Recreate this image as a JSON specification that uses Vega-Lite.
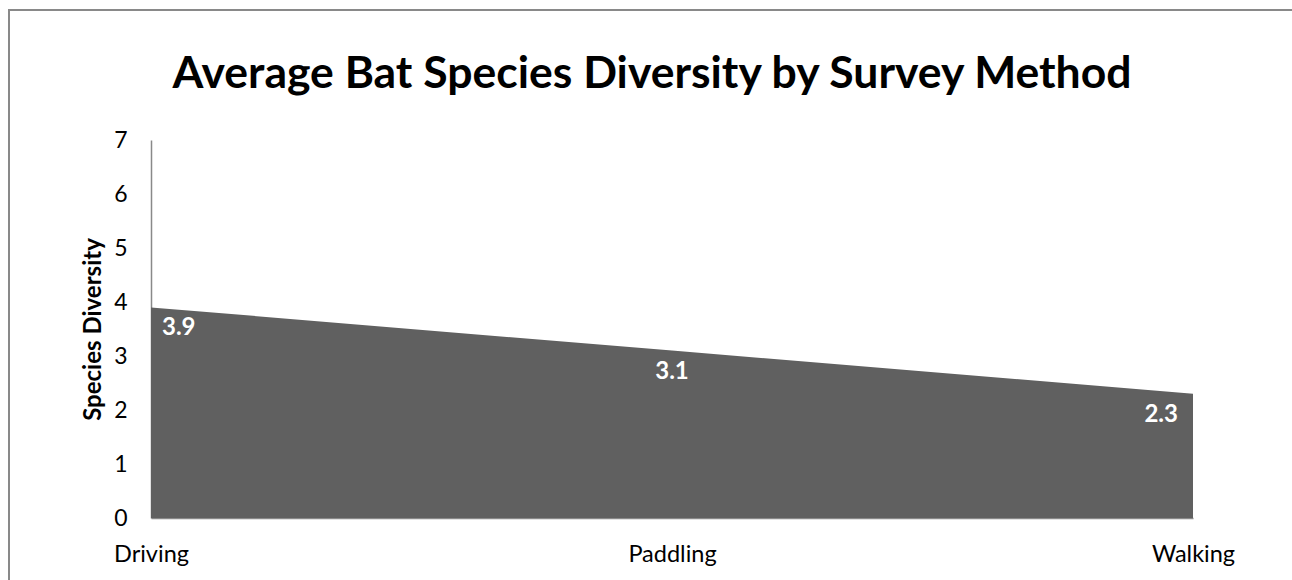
{
  "$schema": "https://vega.github.io/schema/vega-lite/v6.json",
  "width": 1300,
  "height": 600,
  "autosize": "none",
  "padding": {"left": 9, "top": 10, "right": 0, "bottom": 0},
  "background": "white",
  "config": {
    "view": {"stroke": "#898989", "strokeWidth": 2},
    "font": "Lato"
  },
  "title": {
    "text": "Average Bat Species Diversity by Survey Method",
    "font": "Lato",
    "fontSize": 44.5,
    "fontWeight": "bold",
    "color": "#000000",
    "anchor": "middle",
    "frame": "group",
    "offset": 0,
    "baseline": "alphabetic",
    "dy": 122,
    "dx": -7
  },
  "data": {
    "values": [
      {"method": "Driving", "diversity": 3.9},
      {"method": "Paddling", "diversity": 3.1},
      {"method": "Walking", "diversity": 2.3}
    ]
  },
  "encoding": {
    "x": {
      "field": "method",
      "type": "ordinal",
      "sort": null,
      "scale": {"type": "point", "range": [142, 1184], "padding": 0},
      "axis": {
        "orient": "bottom",
        "offset": -92,
        "title": null,
        "domainColor": "#898989",
        "domainWidth": 1.5,
        "ticks": false,
        "grid": false,
        "labelAngle": 0,
        "labelFont": "Lato",
        "labelFontSize": 23.5,
        "labelColor": "#000000",
        "labelPadding": 24,
        "labelAlign": "center",
        "labelFlush": false,
        "labelOverlap": false
      }
    },
    "y": {
      "field": "diversity",
      "type": "quantitative",
      "scale": {"domain": [0, 7], "range": [508, 130], "nice": false, "zero": true},
      "axis": {
        "orient": "left",
        "offset": -142,
        "values": [0, 1, 2, 3, 4, 5, 6, 7],
        "title": "Species Diversity",
        "titleFont": "Lato",
        "titleFontSize": 24,
        "titleFontWeight": "bold",
        "titleColor": "#000000",
        "titlePadding": 8,
        "domainColor": "#898989",
        "domainWidth": 1.5,
        "ticks": false,
        "grid": false,
        "labelFont": "Lato",
        "labelFontSize": 23,
        "labelColor": "#000000",
        "labelPadding": 24
      }
    }
  },
  "layer": [
    {"mark": {"type": "area", "color": "#606060", "opacity": 1, "interpolate": "linear"}},
    {
      "mark": {
        "type": "text",
        "color": "#ffffff",
        "font": "Lato",
        "fontSize": 24,
        "fontWeight": "bold",
        "baseline": "top",
        "dy": 9,
        "align": {"expr": "datum.method == 'Driving' ? 'left' : (datum.method == 'Walking' ? 'right' : 'center')"},
        "dx": {"expr": "datum.method == 'Driving' ? 11 : (datum.method == 'Walking' ? -15 : 0)"}
      },
      "encoding": {"text": {"field": "diversity", "type": "quantitative", "format": ".1f"}}
    }
  ]
}
